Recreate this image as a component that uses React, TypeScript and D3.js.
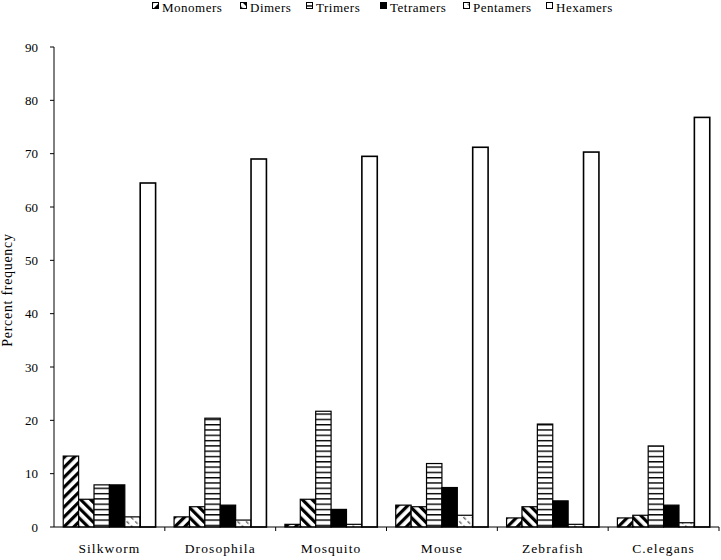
import React from "react";
import * as d3 from "d3";

const categories = ["Silkworm", "Drosophila", "Mosquito", "Mouse", "Zebrafish", "C.elegans"];
const seriesNames = ["Monomers", "Dimers", "Trimers", "Tetramers", "Pentamers", "Hexamers"];
const monomers = [13.3, 1.9, 0.5, 4.1, 1.7, 1.7];
const dimers = [5.2, 3.8, 5.2, 3.8, 3.8, 2.2];
const trimers = [7.9, 20.4, 21.7, 11.9, 19.3, 15.2];
const tetramers = [7.9, 4.1, 3.3, 7.4, 4.9, 4.1];
const pentamers = [1.9, 1.3, 0.5, 2.2, 0.5, 0.8];
const hexamers = [64.5, 69.0, 69.5, 71.2, 70.3, 76.8];
const yTicks = [0, 10, 20, 30, 40, 50, 60, 70, 80, 90];

const seriesValues = [monomers, dimers, trimers, tetramers, pentamers, hexamers];
const fills = ["url(#pMono)", "url(#pDim)", "url(#pTri)", "#000", "url(#pPent)", "#fff"];

export default function App() {
  const W = 721, H = 560;
  const left = 54, right = 719, top = 47, bottom = 527;
  const x0 = d3.scaleBand<string>().domain(categories).range([left, right]).paddingInner(0).paddingOuter(0);
  const x1 = d3.scaleBand<string>().domain(seriesNames).range([0, x0.bandwidth()]).paddingOuter(0.6).paddingInner(0);
  const y = d3.scaleLinear().domain([0, 90]).range([bottom, top]);
  const legendX = [152, 240, 306, 380, 463, 546];
  const font = "Liberation Serif, Times New Roman, serif";

  return (
    <svg width={W} height={H} style={{ position: "absolute", left: 0, top: 0, background: "#fff", fontFamily: font }}>
      <defs>
        <pattern id="pMono" patternUnits="userSpaceOnUse" width="7" height="7" patternTransform="rotate(45)">
          <rect width="7" height="7" fill="#fff" />
          <rect x="0" y="0" width="3.2" height="7" fill="#000" />
        </pattern>
        <pattern id="pDim" patternUnits="userSpaceOnUse" width="7" height="7" patternTransform="rotate(-45)">
          <rect width="7" height="7" fill="#fff" />
          <rect x="0" y="0" width="3.2" height="7" fill="#000" />
        </pattern>
        <pattern id="pTri" patternUnits="userSpaceOnUse" width="6" height="5.3">
          <rect width="6" height="5.3" fill="#fff" />
          <rect x="0" y="0" width="6" height="1.4" fill="#000" />
        </pattern>
        <pattern id="pPent" patternUnits="userSpaceOnUse" width="6" height="6" patternTransform="rotate(-45)">
          <rect width="6" height="6" fill="#fff" />
          <rect x="0" y="0" width="1.4" height="3.5" fill="#666" />
        </pattern>
      </defs>

      {/* legend */}
      {seriesNames.map((s, i) => (
        <g key={s} transform={`translate(${legendX[i]},0)`}>
          <rect x={0.5} y={2.5} width={6} height={6} fill={fills[i]} stroke="#000" strokeWidth={1} />
          <text x={10} y={12} fontSize={13} letterSpacing={0.5} fill="#000" style={{ fontFamily: font }}>{s}</text>
        </g>
      ))}

      {/* bars */}
      {categories.map((c, ci) => (
        <g key={c} transform={`translate(${x0(c)},0)`}>
          {seriesNames.map((s, si) => {
            const v = seriesValues[si][ci];
            const yy = y(v);
            return (
              <rect key={s} x={x1(s)!} y={yy} width={x1.bandwidth()} height={bottom - yy}
                fill={fills[si]} stroke="#000" strokeWidth={si === 5 ? 1.6 : 1.2} />
            );
          })}
        </g>
      ))}

      {/* y axis */}
      <line x1={left} x2={left} y1={top} y2={bottom} stroke="#000" strokeWidth={1} />
      {yTicks.map(t => (
        <g key={t}>
          <line x1={left - 4} x2={left} y1={y(t)} y2={y(t)} stroke="#000" strokeWidth={1} />
          <text x={38} y={y(t)} dy="0.35em" textAnchor="end" fontSize={13} fill="#000" style={{ fontFamily: font }}>{t}</text>
        </g>
      ))}
      <text transform={`translate(12,${(top + bottom) / 2 + 3}) rotate(-90)`} textAnchor="middle" fontSize={14} letterSpacing={0.7} fill="#000" style={{ fontFamily: font }}>Percent frequency</text>

      {/* x axis */}
      <line x1={left} x2={right} y1={bottom} y2={bottom} stroke="#000" strokeWidth={1} />
      {categories.map(c => (
        <line key={c + "t"} x1={x0(c)! + x0.bandwidth()} x2={x0(c)! + x0.bandwidth()} y1={bottom} y2={bottom + 4} stroke="#000" strokeWidth={1} />
      ))}
      {categories.map(c => (
        <text key={c + "l"} x={x0(c)! + x0.bandwidth() / 2} y={553} textAnchor="middle" fontSize={13.5} letterSpacing={1.1} fill="#000" style={{ fontFamily: font }}>{c}</text>
      ))}
    </svg>
  );
}
